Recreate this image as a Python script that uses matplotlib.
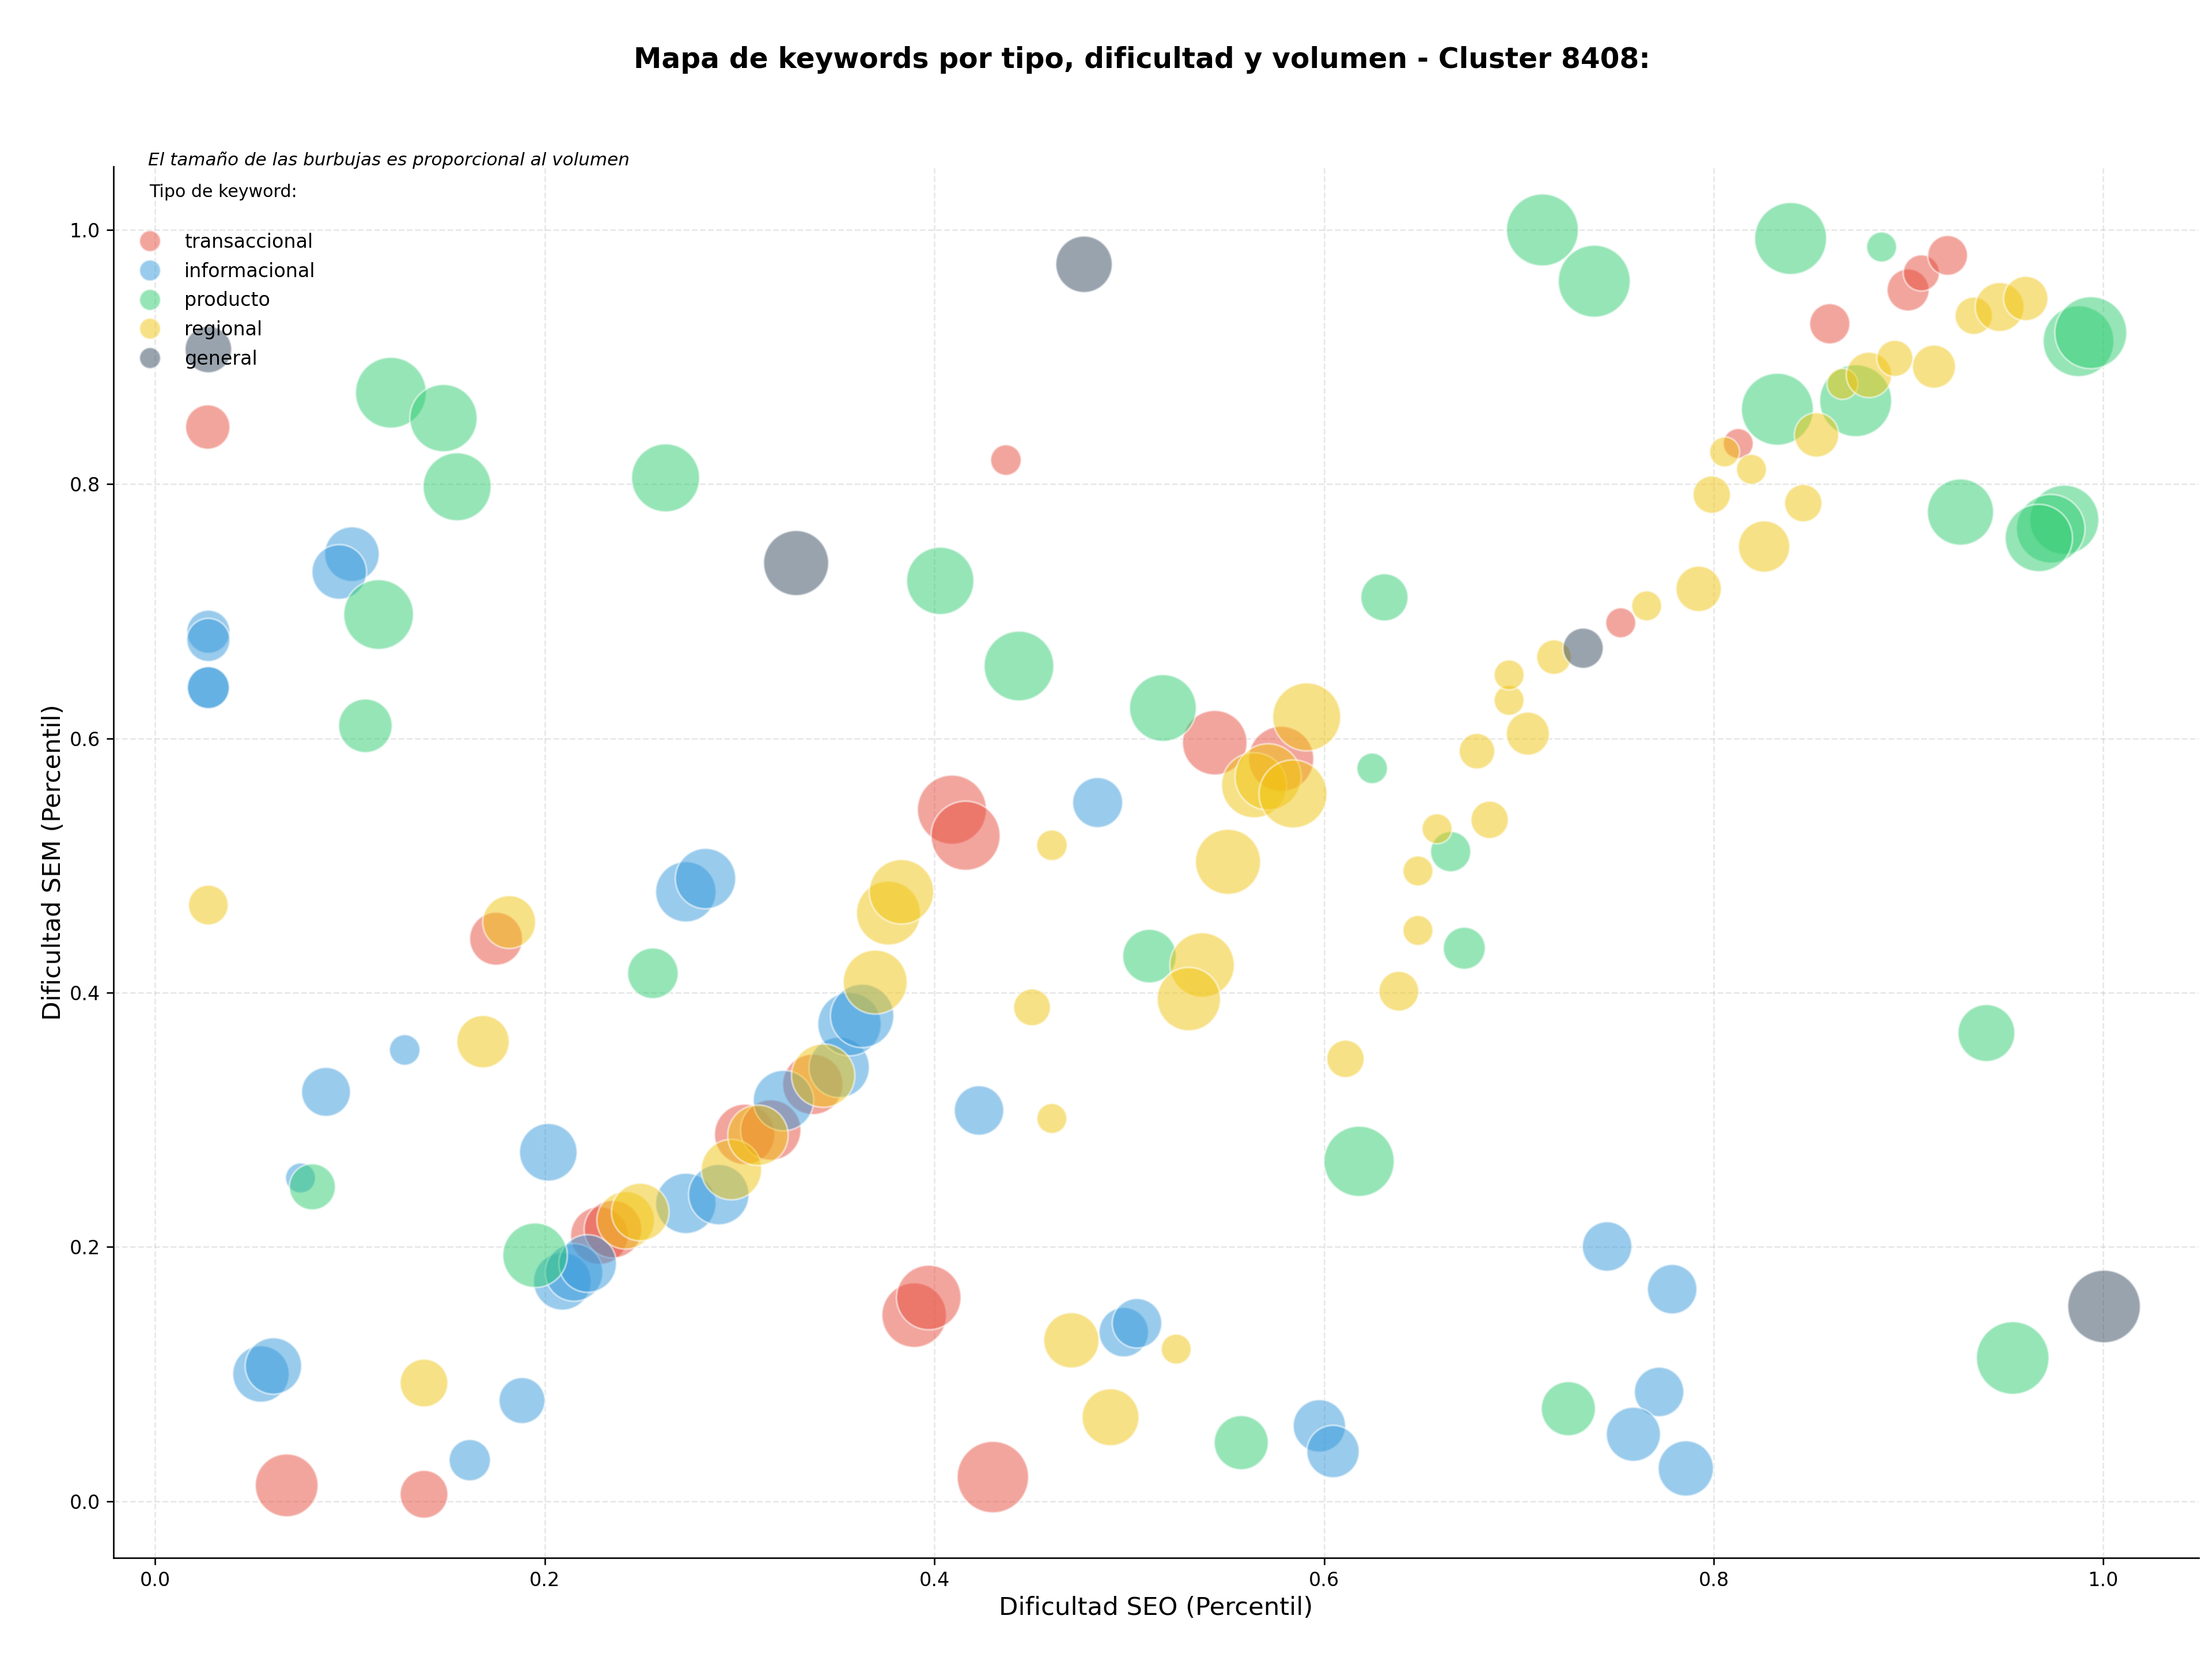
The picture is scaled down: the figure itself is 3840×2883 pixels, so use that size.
import matplotlib
matplotlib.use("Agg")
import matplotlib.pyplot as plt
from matplotlib.lines import Line2D

# ---------------- data ----------------
categorias = ["transaccional", "informacional", "producto", "regional", "general"]
colores = ["#e74c3c", "#3498db", "#2ecc71", "#f1c40f", "#34495e"]

trans_seo = [0.027, 0.0675, 0.138, 0.175, 0.4367, 0.430, 0.3896, 0.3971, 0.409, 0.416,
             0.5439, 0.578, 0.7523, 0.8126, 0.8596, 0.8998, 0.9066, 0.9201,
             0.228, 0.235, 0.3026, 0.316, 0.3376]
trans_sem = [0.845, 0.0125, 0.0055, 0.4425, 0.819, 0.019, 0.1464, 0.1603, 0.544, 0.5235,
             0.5967, 0.584, 0.691, 0.832, 0.9262, 0.9528, 0.9662, 0.980,
             0.209, 0.214, 0.2886, 0.292, 0.3279]
trans_vol = [1070, 2140, 1240, 1520, 510, 2770, 2260, 2260, 2590, 2590,
             2260, 2300, 490, 490, 880, 960, 710, 860,
             1800, 1800, 1980, 1980, 1980]

info_seo = [0.0273, 0.0273, 0.0273, 0.0273, 0.101, 0.0945, 0.1281, 0.0877, 0.0746, 0.2018,
            0.2724, 0.2825, 0.0543, 0.0607, 0.1883, 0.1615, 0.209, 0.215, 0.222, 0.2724,
            0.2893, 0.3225, 0.3511, 0.3564, 0.3629, 0.4838, 0.4229, 0.4972, 0.504, 0.5976,
            0.6046, 0.7453, 0.7787, 0.772, 0.7588, 0.7857]
info_sem = [0.684, 0.6775, 0.640, 0.640, 0.745, 0.731, 0.355, 0.322, 0.2543, 0.2745,
            0.4794, 0.4898, 0.1001, 0.1064, 0.0792, 0.0323, 0.173, 0.180, 0.187, 0.2343,
            0.2412, 0.3152, 0.3413, 0.3753, 0.3818, 0.5496, 0.3074, 0.133, 0.140, 0.0593,
            0.0391, 0.2004, 0.1668, 0.086, 0.0527, 0.0258]
info_vol = [1010, 1010, 960, 960, 1620, 1620, 510, 1300, 490, 1800,
            1980, 1980, 1730, 1730, 1150, 930, 1800, 1800, 1800, 1980,
            1980, 1980, 1980, 2180, 2180, 1360, 1330, 1330, 1330, 1490,
            1490, 1330, 1330, 1330, 1590, 1660]

prod_seo = [0.121, 0.148, 0.155, 0.262, 0.1147, 0.1079, 0.2555, 0.0807, 0.195, 0.403,
            0.4434, 0.631, 0.5173, 0.6247, 0.5104, 0.665, 0.672, 0.618, 0.5575, 0.7254,
            0.9535, 0.940, 0.7121, 0.7387, 0.8395, 0.8862, 0.9873, 0.9936, 0.8729, 0.8327,
            0.9267, 0.980, 0.973, 0.9669]
prod_sem = [0.872, 0.852, 0.798, 0.805, 0.6975, 0.610, 0.4153, 0.2473, 0.1935, 0.724,
            0.657, 0.711, 0.624, 0.5765, 0.4288, 0.511, 0.435, 0.2674, 0.0461, 0.0728,
            0.1127, 0.3683, 1.0, 0.9597, 0.9933, 0.9866, 0.9125, 0.9192, 0.8657, 0.859,
            0.7781, 0.7721, 0.765, 0.7577]
prod_vol = [2720, 2460, 2510, 2510, 2640, 1560, 1390, 1150, 2260, 2460,
            2640, 1210, 2420, 510, 1560, 880, 960, 2680, 1590, 1590,
            2860, 1760, 2810, 2810, 2810, 490, 2720, 2810, 2810, 2810,
            2380, 2590, 2550, 2460]

reg_seo = [0.0273, 0.1817, 0.1683, 0.138, 0.2415, 0.249, 0.2958, 0.3094, 0.3429, 0.3696,
           0.3764, 0.3831, 0.4603, 0.4501, 0.4603, 0.4703, 0.4904, 0.5241, 0.5507, 0.5374,
           0.5306, 0.5911, 0.5641, 0.5713, 0.5841, 0.6482, 0.6482, 0.6384, 0.611, 0.658,
           0.685, 0.6785, 0.7046, 0.695, 0.695, 0.718, 0.7656, 0.7923, 0.8259, 0.846,
           0.799, 0.8194, 0.8056, 0.8528, 0.8661, 0.8797, 0.893, 0.9131, 0.9335, 0.9468,
           0.9602]
reg_sem = [0.469, 0.4556, 0.3615, 0.093, 0.221, 0.2275, 0.2609, 0.2879, 0.3348, 0.4084,
           0.4627, 0.4794, 0.516, 0.3885, 0.3011, 0.1266, 0.0661, 0.1197, 0.503, 0.4218,
           0.395, 0.617, 0.5632, 0.5698, 0.5564, 0.4958, 0.449, 0.4012, 0.348, 0.529,
           0.536, 0.590, 0.6038, 0.630, 0.650, 0.664, 0.7043, 0.7177, 0.751, 0.7851,
           0.7918, 0.8117, 0.8254, 0.8388, 0.8789, 0.886, 0.899, 0.8925, 0.9325, 0.9394,
           0.9461]
reg_vol = [860, 1520, 1490, 1240, 1800, 1800, 1980, 1980, 2180, 2220,
           2220, 2260, 510, 740, 490, 1660, 1760, 490, 2300, 2260,
           2180, 2510, 2300, 2380, 2510, 490, 490, 860, 760, 490,
           760, 690, 1010, 490, 490, 650, 490, 1120, 1430, 760,
           760, 490, 490, 1070, 520, 1120, 710, 1010, 760, 1300,
           1070]

gen_seo = [0.0273, 0.329, 0.4768, 0.733, 1.0004]
gen_sem = [0.906, 0.738, 0.973, 0.671, 0.1532]
gen_vol = [1180, 2300, 1730, 880, 2860]

titulo = "Mapa de keywords por tipo, dificultad y volumen - Cluster 8408:"
nota = "El tamaño de las burbujas es proporcional al volumen"
titulo_leyenda = "Tipo de keyword:\n"
xlabel = "Dificultad SEO (Percentil)"
ylabel = "Dificultad SEM (Percentil)"
ticks = [0.0, 0.2, 0.4, 0.6, 0.8, 1.0]

# ---------------- plot ----------------
W, H = 3840, 2883
DPI = 240
fig = plt.figure(figsize=(W / DPI, H / DPI), dpi=DPI)
ax = fig.add_axes([197 / W, 1 - 2703.7 / H, 3620 / W, 2414.2 / H])

series = [(trans_seo, trans_sem, trans_vol), (info_seo, info_sem, info_vol),
          (prod_seo, prod_sem, prod_vol), (reg_seo, reg_sem, reg_vol),
          (gen_seo, gen_sem, gen_vol)]
SIZE_K = 0.5
for (xs, ys, vs), col in zip(series, colores):
    ax.scatter(xs, ys, s=[v * SIZE_K for v in vs], c=col, alpha=0.5,
               edgecolors="white", linewidths=1, zorder=3)

ax.set_xlim(-0.0214, 1.049)
ax.set_ylim(-0.0444, 1.0497)
ax.set_xticks(ticks)
ax.set_yticks(ticks)
ax.tick_params(labelsize=10)
ax.grid(True, linestyle="--", alpha=0.3, zorder=0)
ax.set_axisbelow(True)
for sp in ["top", "right"]:
    ax.spines[sp].set_visible(False)

ax.set_xlabel(xlabel, fontsize=13, labelpad=3)
ax.set_ylabel(ylabel, fontsize=13, labelpad=2)

fig.text(1982 / W, 1 - 104 / H, titulo, ha="center", va="center",
         fontsize=14.6, fontweight="bold")
ax.text(0.0166, 1.0048, nota, transform=ax.transAxes, fontsize=9.3,
        style="italic", ha="left", va="center")

handles = [Line2D([0], [0], marker="o", linestyle="none", markersize=11,
                  markerfacecolor=c, markeredgecolor="white", alpha=0.5)
           for c in colores]
leg = ax.legend(handles, categorias, loc="upper left", frameon=False,
                fontsize=10, title=titulo_leyenda, title_fontsize=9,
                labelspacing=0.53)
leg.get_title().set_linespacing(1.39)

fig.savefig("out.png", dpi=DPI)
